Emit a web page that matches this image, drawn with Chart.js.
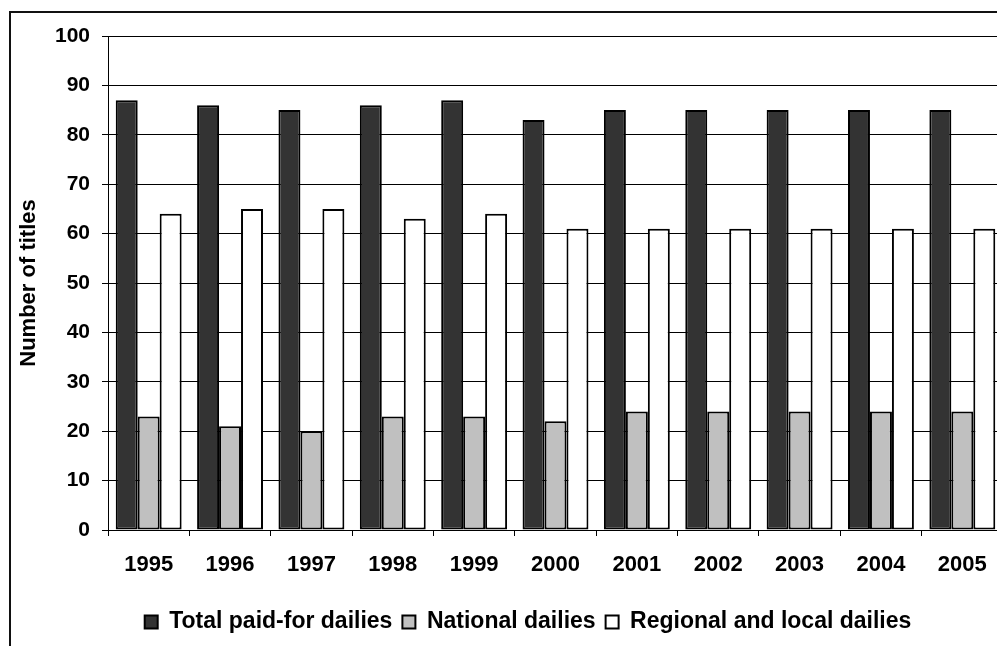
<!DOCTYPE html>
<html>
<head>
<meta charset="utf-8">
<script src="https://cdn.jsdelivr.net/npm/chart.js@4"></script>
<style>
  html, body { margin: 0; padding: 0; background: #fff; overflow: hidden; }
  #wrap { position: relative; width: 997px; height: 646px; overflow: hidden; }
  #chart { position: absolute; left: 0; top: 0; }
  #frame { position: absolute; left: 9px; top: 11px; width: 1100px; height: 700px;
           border-left: 2px solid #111; border-top: 2px solid #111; pointer-events: none; }
</style>
</head>
<body>
<div id="wrap">
  <canvas id="chart" width="1056" height="646"></canvas>
  <div id="frame"></div>
</div>
<script>
// years on the x axis
const years = ['1995', '1996', '1997', '1998', '1999', '2000', '2001', '2002', '2003', '2004', '2005'];

// number of titles per year
const totalPaid = [87, 86, 85, 86, 87, 83, 85, 85, 85, 85, 85];
const national = [23, 21, 20, 23, 23, 22, 24, 24, 24, 24, 24];
const regional = [64, 65, 65, 63, 64, 61, 61, 61, 61, 61, 61];

const seriesNames = ['Total paid-for dailies', 'National dailies', 'Regional and local dailies'];

const font = 'Liberation Sans, Arial, sans-serif';

function barSet(label, data, color) {
  return {
    label: label,
    data: data,
    backgroundColor: color,
    borderColor: '#000',
    borderWidth: 2,
    borderSkipped: false
  };
}

const ctx = document.getElementById('chart');

new Chart(ctx, {
  type: 'bar',
  data: {
    labels: years,
    datasets: [
      barSet(seriesNames[0], totalPaid, '#333333'),
      barSet(seriesNames[1], national, '#C0C0C0'),
      barSet(seriesNames[2], regional, '#FFFFFF')
    ]
  },
  options: {
    responsive: false,
    animation: false,
    layout: { padding: { top: 36, left: 0, right: 0, bottom: 2.5 } },
    datasets: {
      bar: { categoryPercentage: 0.81, barPercentage: 1.0 }
    },
    plugins: {
      tooltip: { enabled: false },
      legend: {
        position: 'bottom',
        labels: {
          boxWidth: 13,
          boxHeight: 13,
          padding: 10,
          color: '#000',
          font: { family: font, size: 23, weight: 'bold' }
        }
      }
    },
    scales: {
      x: {
        grid: { offset: true, drawOnChartArea: false, drawTicks: true, tickLength: 6, color: '#000' },
        border: { display: true, color: '#000', width: 1 },
        ticks: { color: '#000', padding: 16, maxRotation: 0, font: { family: font, size: 22, weight: 'bold' } },
        afterFit: function (scale) { scale.height = 70.5; }
      },
      y: {
        min: 0,
        max: 100,
        ticks: { stepSize: 10, color: '#000', padding: 12, font: { family: font, size: 21, weight: 'bold' } },
        grid: { color: '#000', lineWidth: 1, tickLength: 6 },
        border: { display: true, color: '#000', width: 1 },
        title: {
          display: true,
          text: 'Number of titles',
          color: '#000',
          padding: { top: 16, bottom: 0 },
          font: { family: font, size: 22, weight: 'bold' }
        },
        afterFit: function (scale) { scale.width = 108; }
      },
      spare: {
        position: 'right',
        display: true,
        grid: { display: false },
        border: { display: false },
        ticks: { display: false },
        afterFit: function (scale) { scale.width = 53; }
      }
    }
  }
});
</script>
</body>
</html>
